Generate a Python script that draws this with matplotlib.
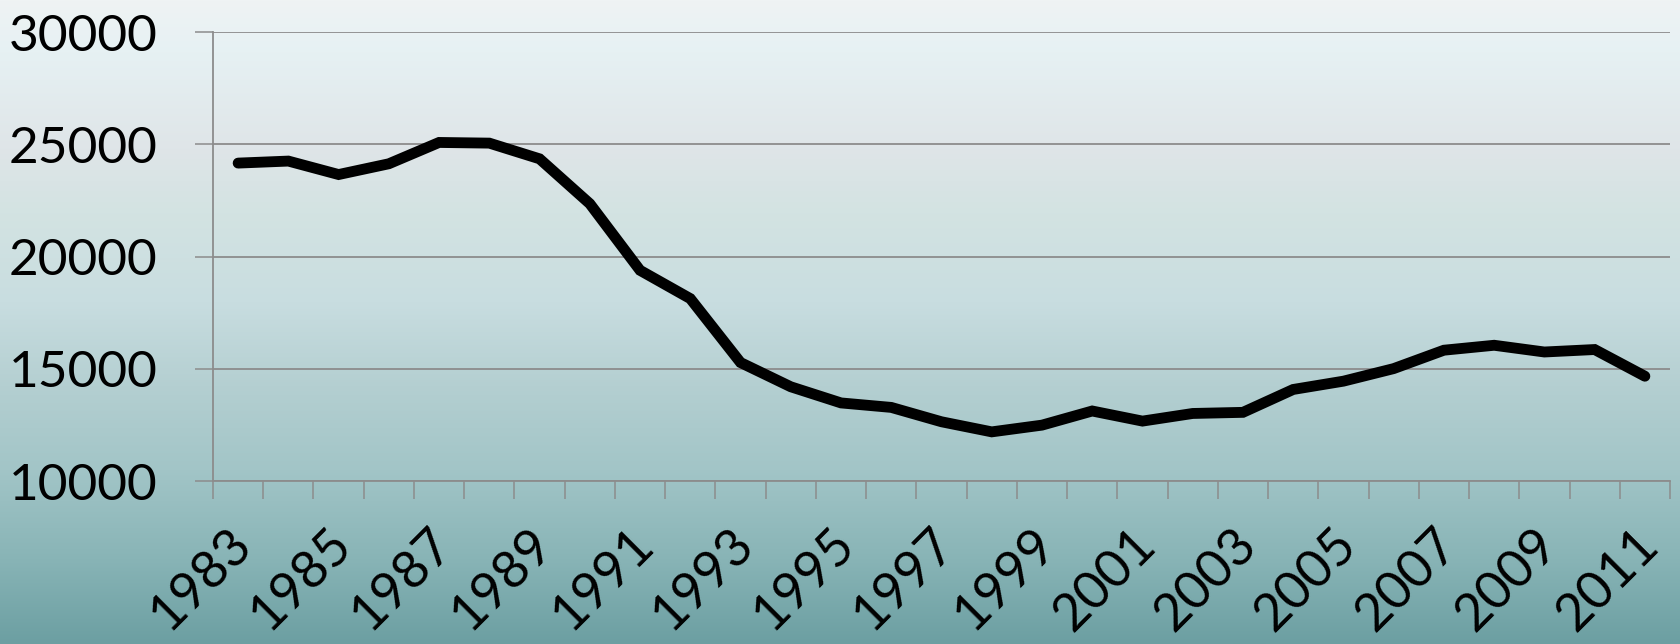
import numpy as np
import matplotlib.pyplot as plt
import matplotlib.transforms as mtransforms
from matplotlib.colors import LinearSegmentedColormap

plt.rcParams['font.family'] = ['Lato', 'DejaVu Sans']

years = list(range(1983, 2012))
values = [24170, 24260, 23660, 24140, 25090, 25060, 24360, 22360, 19390, 18130,
          15280, 14200, 13480, 13280, 12640, 12190, 12490, 13120, 12670, 13010,
          13060, 14080, 14450, 15010, 15830, 16050, 15750, 15860, 14670]
yticks = [10000, 15000, 20000, 25000, 30000]

fig = plt.figure(figsize=(16.8, 6.44), dpi=100)

# background gradient
bg = fig.add_axes([0, 0, 1, 1], zorder=-10)
stops = [(0.0, '#eff3f4'), (0.08, '#e6f1f3'), (0.23, '#dfe5e8'), (0.33, '#d3e3e2'),
         (0.47, '#c8dde0'), (0.6, '#b4cfd1'), (0.73, '#a2c5c7'), (0.87, '#88b4b6'),
         (1.0, '#6c9fa2')]
cmap = LinearSegmentedColormap.from_list('bg', stops)
bg.imshow(np.linspace(0, 1, 256).reshape(-1, 1), aspect='auto', cmap=cmap,
          extent=[0, 1, 0, 1])
bg.set_axis_off()

ax = fig.add_axes([213/1680, 1 - 481/644, (1670 - 213)/1680, (481 - 32.3)/644])
ax.patch.set_alpha(0)

x = np.arange(len(years))
ax.plot(x, values, color='black', lw=7.8, solid_capstyle='round',
        solid_joinstyle='miter', zorder=3)

ax.set_xlim(-0.5, len(years) - 0.5)
ax.set_ylim(10000, 30000)

grid_c = '#8c8c8c'
ax.set_yticks(yticks)
ax.set_yticklabels([str(v) for v in yticks], fontsize=37)
ax.yaxis.grid(True, color=grid_c, lw=1.3)
ax.tick_params(axis='y', length=13, width=1.1, color=grid_c, pad=27)

ax.set_xticks(np.arange(-0.5, len(years), 1))
ax.set_xticklabels([])
ax.tick_params(axis='x', length=13, width=1.1, color=grid_c)

for s in ['top', 'right']:
    ax.spines[s].set_visible(False)
for s in ['left', 'bottom']:
    ax.spines[s].set_color(grid_c)
    ax.spines[s].set_linewidth(1.3)

offset = mtransforms.ScaledTranslation(-11/100, -39/100, fig.dpi_scale_trans)
trans = mtransforms.blended_transform_factory(ax.transData, ax.transAxes) + offset
for i in range(0, len(years), 2):
    ax.text(x[i], 0, str(years[i]), transform=trans, fontsize=37.5,
            rotation=45, rotation_mode='anchor', ha='right', va='top')

fig.savefig('out.png', dpi=100)
